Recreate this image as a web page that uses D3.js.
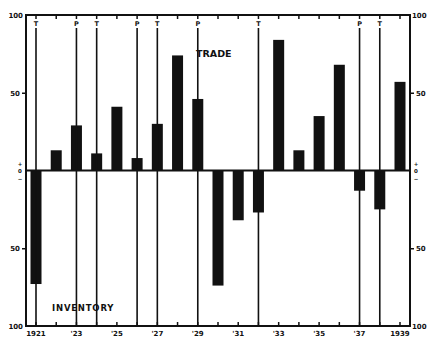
<!DOCTYPE html>
<html>
<head>
<meta charset="utf-8">
<script src="https://cdn.jsdelivr.net/npm/d3@7"></script>
<style>
  body { margin: 0; background: #fff; }
  text { font-family: "DejaVu Sans", sans-serif; font-weight: bold; fill: #111; }
</style>
</head>
<body>
<svg id="chart" width="428" height="338"></svg>
<script>
// trade (+) / inventory (-) per year
const years = [1921, 1922, 1923, 1924, 1925, 1926, 1927, 1928, 1929, 1930,
               1931, 1932, 1933, 1934, 1935, 1936, 1937, 1938, 1939];
const values = [-73, 13, 29, 11, 41, 8, 30, 74, 46, -74,
                -32, -27, 84, 13, 35, 68, -13, -25, 57];

// business cycle turning points
const turnYears = [1921, 1923, 1924, 1926, 1927, 1929, 1932, 1937, 1938];
const turnTypes = ['T', 'P', 'T', 'P', 'T', 'P', 'T', 'P', 'T'];

const yearTicks = [1921, 1923, 1925, 1927, 1929, 1931, 1933, 1935, 1937, 1939];
const yearLabels = ['1921', "'23", "'25", "'27", "'29", "'31", "'33", "'35", "'37", '1939'];

const svg = d3.select('#chart');
const ink = '#111';

const frame = { left: 26, right: 410, top: 15, bottom: 326 };

const xScale = d3.scaleLinear()
  .domain([1921, 1939])
  .range([36, 400]);

const yScale = d3.scaleLinear()
  .domain([-100, 100])
  .range([frame.bottom, frame.top]);

const barW = 11;

// bars
svg.selectAll('rect.bar')
  .data(values)
  .enter().append('rect')
  .attr('class', 'bar')
  .attr('x', (d, i) => xScale(years[i]) - barW / 2)
  .attr('y', d => yScale(Math.max(0, d)))
  .attr('width', barW)
  .attr('height', d => Math.abs(yScale(d) - yScale(0)))
  .attr('fill', ink);

// turning point lines + letters
svg.selectAll('line.turn')
  .data(turnYears)
  .enter().append('line')
  .attr('class', 'turn')
  .attr('x1', d => xScale(d)).attr('x2', d => xScale(d))
  .attr('y1', 28).attr('y2', frame.bottom)
  .attr('stroke', ink).attr('stroke-width', 1.6);

svg.selectAll('text.turn')
  .data(turnYears)
  .enter().append('text')
  .attr('class', 'turn')
  .attr('x', d => xScale(d))
  .attr('y', 26)
  .attr('text-anchor', 'middle')
  .attr('font-size', 6.5)
  .text((d, i) => turnTypes[i]);

// frame
svg.append('rect')
  .attr('x', frame.left).attr('y', frame.top)
  .attr('width', frame.right - frame.left).attr('height', frame.bottom - frame.top)
  .attr('fill', 'none').attr('stroke', ink).attr('stroke-width', 2);

// zero line
svg.append('line')
  .attr('x1', frame.left).attr('x2', frame.right)
  .attr('y1', yScale(0)).attr('y2', yScale(0))
  .attr('stroke', ink).attr('stroke-width', 2);

// year ticks, inward at top and bottom
svg.selectAll('line.ttick')
  .data(years)
  .enter().append('line')
  .attr('class', 'ttick')
  .attr('x1', d => xScale(d)).attr('x2', d => xScale(d))
  .attr('y1', frame.top).attr('y2', frame.top + 4)
  .attr('stroke', ink).attr('stroke-width', 1.5);

svg.selectAll('line.btick')
  .data(years)
  .enter().append('line')
  .attr('class', 'btick')
  .attr('x1', d => xScale(d)).attr('x2', d => xScale(d))
  .attr('y1', frame.bottom).attr('y2', frame.bottom - 4)
  .attr('stroke', ink).attr('stroke-width', 1.5);

svg.selectAll('text.year')
  .data(yearTicks)
  .enter().append('text')
  .attr('class', 'year')
  .attr('x', d => xScale(d))
  .attr('y', 336)
  .attr('text-anchor', 'middle')
  .attr('font-size', 7)
  .text((d, i) => yearLabels[i]);

// value axes on both sides
const leftAxis = d3.axisLeft(yScale)
  .tickValues([-50, 50])
  .tickSize(4)
  .tickPadding(2)
  .tickFormat(d => Math.abs(d));

const rightAxis = d3.axisRight(yScale)
  .tickValues([-50, 50])
  .tickSize(4)
  .tickPadding(2)
  .tickFormat(d => Math.abs(d));

function styleAxis(g) {
  g.select('.domain').remove();
  g.selectAll('line').attr('stroke', ink).attr('stroke-width', 1.5);
  g.selectAll('text').attr('font-size', 7).attr('font-family', '"DejaVu Sans", sans-serif')
    .attr('font-weight', 'bold').attr('fill', ink);
}

svg.append('g').attr('transform', `translate(${frame.left},0)`).call(leftAxis).call(styleAxis);
svg.append('g').attr('transform', `translate(${frame.right},0)`).call(rightAxis).call(styleAxis);

// 100 labels at the corners
[frame.top, frame.bottom].forEach(y => {
  svg.append('text').attr('x', frame.left - 3).attr('y', y + 2.5)
    .attr('text-anchor', 'end').attr('font-size', 7).text('100');
  svg.append('text').attr('x', frame.right + 2).attr('y', y + 2.5)
    .attr('text-anchor', 'start').attr('font-size', 7).text('100');
});

// +0- stacked at the zero line
[20, 416].forEach(x => {
  ['+', '0', '\u2212'].forEach((s, i) => {
    svg.append('text')
      .attr('x', x)
      .attr('y', yScale(0) - 5 + i * 7.5)
      .attr('text-anchor', 'middle')
      .attr('font-size', 5.5)
      .text(s);
  });
});

// series labels
svg.append('text')
  .attr('x', 196).attr('y', 57)
  .attr('font-size', 9.5)
  .text('TRADE');

svg.append('text')
  .attr('x', 52).attr('y', 311)
  .attr('font-size', 8.5)
  .attr('letter-spacing', 0.8)
  .text('INVENTORY');
</script>
</body>
</html>
